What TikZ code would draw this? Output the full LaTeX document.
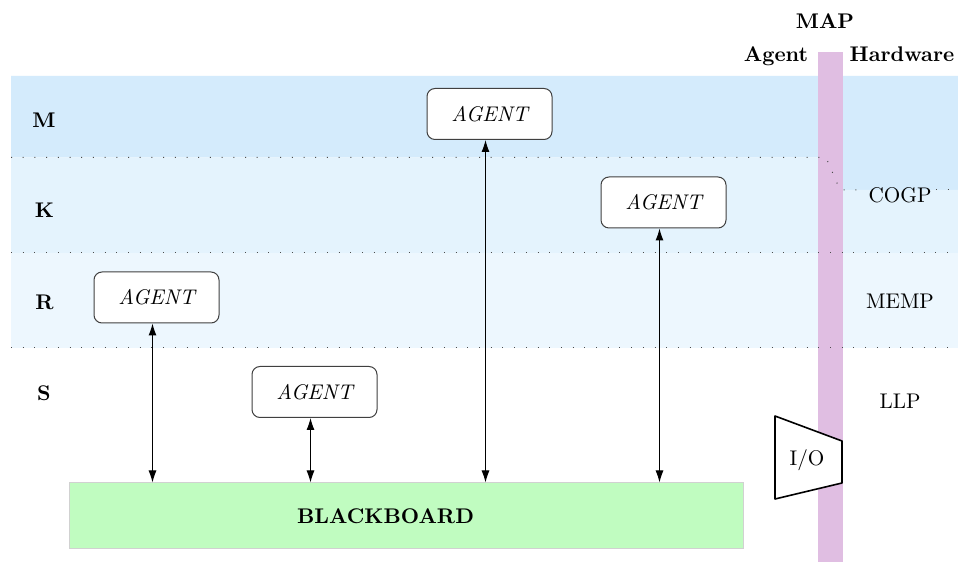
\documentclass[tikz,border=0pt]{standalone}
\usetikzlibrary{arrows.meta}

\begin{document}
\fontsize{10.6}{12.7}\selectfont
\begin{tikzpicture}[x=0.5pt,y=0.5pt,
  agentbox/.style={draw=black!75,fill=white,line width=0.5pt,rounded corners=4pt,
    minimum width=62.5pt,minimum height=25.5pt,inner sep=0pt,font=\itshape},
  layersep/.style={draw=black!70,line width=0.5pt,dash pattern=on 0.5pt off 5.35pt},
  link/.style={{Latex[length=6pt,width=4pt]}-{Latex[length=6pt,width=4pt]},line width=0.5pt},
  layername/.style={inner sep=0pt,font=\bfseries},
  levelname/.style={inner sep=0pt}]
\definecolor{mColor}{RGB}{212,235,252}
\definecolor{kColor}{RGB}{228,243,253}
\definecolor{rColor}{RGB}{237,247,254}
\definecolor{mapColor}{RGB}{224,190,226}
\definecolor{bbColor}{RGB}{192,252,192}
\path[use as bounding box,fill=white] (0,0) rectangle (958,562);

% layer bands
\path[fill=mColor] (11,486) -- (958,486) -- (958,372) -- (840,372) --
	(826,404.5) -- (11,404.5) -- cycle;
\path[fill=kColor] (11,404.5) -- (826,404.5) -- (840,372) -- (958,372) --
	(958,309) -- (11,309) -- cycle;
\path[fill=rColor] (11,309) rectangle (958,214);

% MAP column
\path[fill=mapColor] (817.5,0) rectangle (842.5,510);

\draw[layersep] (11,404.5) -- (826,404.5) -- (840,372) -- (864,372);
\draw[layersep] (936,372) -- (958,372);
\draw[layersep] (11,309) -- (958,309);
\draw[layersep] (11,214) -- (958,214);

\node[layername] (lm) at (44,442) {M};
\node[layername] (lk) at (44.5,351.5) {K};
\node[layername] (lr) at (44.5,260) {R};
\node[layername] (ls) at (44,169) {S};

\node[layername,anchor=base] (map) at (825,533) {MAP};
\node[layername,anchor=base] (agent) at (776,500) {Agent};
\node[layername,anchor=base] (hw) at (902,500) {Hardware};

\node[levelname] (cogp) at (900,367) {COGP};
\node[levelname] (memp) at (900,261) {MEMP};
\node[levelname] (llp) at (900,161) {LLP};

% I/O port on the MAP column
\path[draw=black,fill=white,line width=0.8pt,line join=round] (775,146) -- (842,121) --
	(842,79) -- (775,63) -- cycle;
\node[levelname] (io) at (807,102) {I/O};

% agents and blackboard
\node[agentbox] (a1) at (489.5,448) {AGENT};
\node[agentbox] (a2) at (663.5,359.5) {AGENT};
\node[agentbox] (a3) at (156.5,264.5) {AGENT};
\node[agentbox] (a4) at (314.5,170) {AGENT};

\node[draw=black!18,fill=bbColor,line width=0.5pt,inner sep=0pt,
  minimum width=337pt,minimum height=33pt] (bb) at (406,46) {};
\node[layername] (bblabel) at (385.5,46) {BLACKBOARD};

\foreach \a in {a1,a2,a3,a4}
  \draw[link] ([xshift=-2pt]\a.south) -- ([xshift=-2pt]\a.south |- bb.north);
\end{tikzpicture}
\end{document}
